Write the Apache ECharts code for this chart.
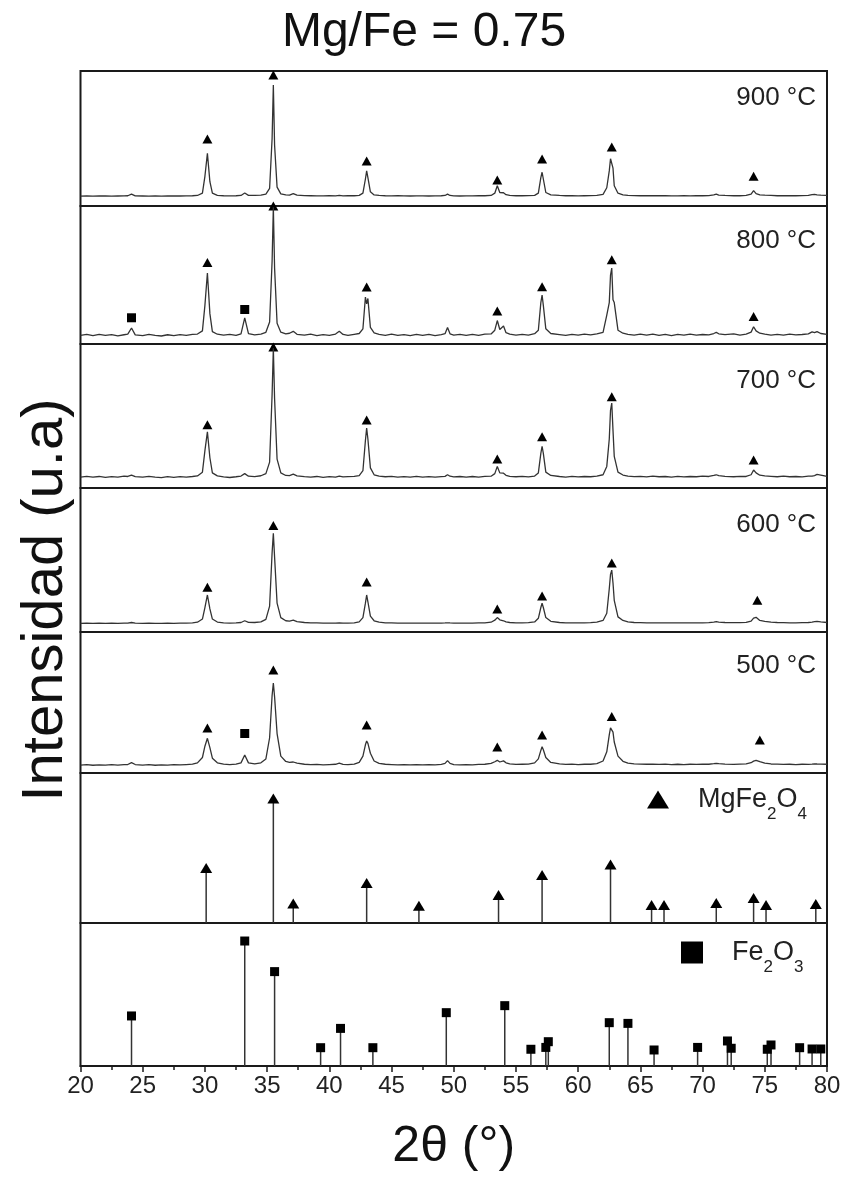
<!DOCTYPE html>
<html><head><meta charset="utf-8">
<script src="https://cdn.jsdelivr.net/npm/echarts@6/dist/echarts.min.js"></script>
<style>html,body{margin:0;padding:0;background:#fff}#c{width:845px;height:1177px}</style>
</head><body><div id="c"></div>
<script>
// ---------- DATA ----------
// 2θ sampling positions shared by all measured patterns
const twoTheta = [
20,20.5,21,21.5,22,22.5,23,23.5,23.8,24.1,24.4,25,25.5,26,26.5,27,27.5,28,28.5,29,
29.4,29.8,30.0,30.2,30.4,30.6,31,31.5,32,32.5,
32.9,33.2,33.5,34,34.5,34.9,35.2,35.4,35.5,35.6,
35.8,36.1,36.5,36.8,37.1,37.4,38,38.5,39,39.5,
40,40.5,40.8,41.1,41.5,42,42.4,42.7,42.9,43.0,
43.1,43.3,43.6,44,44.5,45,45.5,46,46.5,47,
47.5,48,48.5,49,49.3,49.5,49.7,50,50.5,51,
51.5,52,52.5,53,53.3,53.5,53.7,53.85,54.0,54.2,
54.5,55,55.5,56,56.5,56.8,57.0,57.1,57.2,57.4,
57.8,58.5,59,59.5,60,60.5,61,61.5,62.0,62.3,
62.5,62.6,62.7,62.8,62.9,63.2,63.6,64,64.5,65,
65.5,66,66.5,67,67.5,68,68.5,69,69.5,70,
70.5,70.9,71.1,71.3,71.8,72.5,73,73.5,73.9,74.1,
74.3,74.6,75,75.5,76,76.5,77,77.5,78,78.5,
78.8,79.0,79.2,79.5,80];

// intensities (panel units 0-100) for each calcination temperature
const i900 = [
7.3,7.4,7.3,7.5,7.4,7.3,7.4,7.5,7.6,8.8,7.5,7.4,7.3,7.4,7.3,7.4,7.5,7.4,7.5,7.6,
7.8,9.5,22,39,18,9.5,7.9,7.6,7.5,7.6,
7.8,9.6,7.9,7.8,8,8.8,13,50,89.6,45,
14,9,8.2,8.1,9.2,8,7.7,7.6,7.5,7.5,
7.6,7.5,7.8,7.5,7.6,7.6,7.9,9.5,20,26,
21,10.5,8.2,7.8,7.6,7.5,7.6,7.5,7.4,7.5,
7.5,7.4,7.5,7.6,7.8,8.8,7.8,7.5,7.4,7.5,
7.5,7.6,7.6,7.8,9.5,15,10,8.6,9.8,8.4,
7.8,7.6,7.6,7.7,7.9,9.5,21,25,20,10,
8.2,7.8,7.6,7.6,7.5,7.6,7.7,7.9,8.6,13.5,
26,35,36,28,15,9.5,8.3,7.9,7.7,7.6,
7.6,7.7,7.6,7.6,7.5,7.5,7.6,7.5,7.6,7.6,
7.7,8.2,8.8,8.1,7.8,7.6,7.6,7.8,8.8,11.4,
9.2,8.3,8,7.8,7.6,7.7,7.6,7.6,7.7,7.8,
8.4,8.6,8.3,8,7.8];

const i800 = [
6.2,6.9,6.0,7.0,6.3,6.8,5.9,6.7,7.1,11.6,6.6,6.1,6.9,6.2,5.8,6.7,6.0,6.8,6.3,7.0,
7.2,9.5,28,51.4,22,9,7.1,6.4,6.9,6.2,
7.4,19,7.5,6.6,7.2,8.5,16,60,99,55,
15,8.6,7.3,7.8,9.2,7.0,6.4,7.1,6.1,6.8,
6.3,7.2,9.2,6.9,6.2,7.0,7.6,11,34,29,
33,12,8,7.0,6.3,7.1,6.2,6.8,6.0,6.9,
6.3,7.0,6.1,6.8,7.5,12,7.4,6.5,7.0,6.2,
6.9,6.3,7.1,7.3,10,17,10.5,9.5,13,8.2,
7.1,6.4,7.0,6.5,7.5,10,30,35.5,28,11,
7.6,6.8,6.2,7.0,6.4,7.1,6.6,7.4,8.4,21,
30,50,55,32,30,10,7.8,7.0,6.4,7.1,
6.5,7.2,6.3,7.0,6.1,6.9,6.4,7.2,6.5,6.9,
6.6,7.6,8.4,7.4,6.8,7.3,6.5,7.2,8.6,12.5,
9.5,7.8,7.1,6.4,7.0,6.5,7.2,6.6,6.9,7.3,
8.8,8.2,9.0,7.6,7.0];

const i700 = [
7.6,8.1,7.5,8.0,7.4,7.9,7.6,8.2,8.0,8.9,7.9,7.5,8.1,7.6,7.2,7.9,7.4,7.9,7.6,8.0,
8.4,11,26,39,21,10.5,8.4,7.7,7.3,7.8,
8.3,10,8.2,7.9,8.5,10,18,65,97,62,
20,10.5,8.7,8.6,9.6,8.4,7.9,7.5,8.0,7.4,
7.9,7.5,8.3,7.7,7.9,8.1,8.6,12,33,41.7,
34,14,9.2,8.2,7.8,8.1,7.5,7.9,7.5,8.1,
7.6,7.9,7.5,7.9,8.1,9.2,8.2,7.7,8.0,7.6,
8.0,7.6,8.1,8.2,10,15,10.5,9.4,10.3,8.8,
8.1,7.8,8.1,7.7,8.3,10.5,24,29,24,11,
8.7,8.0,7.6,8.1,7.7,8.0,7.8,8.3,9.2,15,
34,54,59,40,22,11,9,8.3,7.9,8.1,
7.7,8.2,7.8,8.0,7.6,8.1,7.7,8.0,7.8,8.2,
8.0,8.7,9.2,8.6,8.1,7.8,8.1,8.0,9.2,12.5,
10.5,8.9,8.4,8.1,7.8,8.2,7.8,8.0,7.7,8.2,
8.3,8.6,9.4,9.0,8.0];

const i600 = [
6.0,6.1,6.0,6.1,6.0,6.1,6.0,6.1,6.1,6.6,6.1,6.0,6.1,6.0,6.0,6.1,6.0,6.1,6.2,6.3,
6.8,9,17,25.7,16,9,6.9,6.4,6.2,6.3,
6.6,7.8,6.7,6.6,7.0,8.8,18,55,68.5,52,
20,10,7.8,7.6,8.2,7.2,6.6,6.4,6.3,6.2,
6.2,6.2,6.4,6.2,6.2,6.4,7.0,10,20,25.7,
21,11,7.8,6.8,6.4,6.3,6.2,6.2,6.1,6.2,
6.2,6.1,6.2,6.2,6.3,6.4,6.3,6.2,6.2,6.2,
6.2,6.3,6.4,6.8,8.2,10,8.5,7.5,7.8,7.0,
6.6,6.4,6.4,6.5,7.0,9.5,17,20,17,10,
7.4,6.6,6.4,6.4,6.3,6.4,6.5,6.8,8,13,
30,40,43,34,22,10.5,8,7.0,6.6,6.5,
6.4,6.4,6.4,6.3,6.3,6.3,6.3,6.3,6.4,6.4,
6.5,6.9,7.2,6.9,6.6,6.5,6.5,6.7,7.6,9.6,
10.2,8,7.4,6.8,6.6,6.5,6.4,6.4,6.5,6.6,
6.9,7.2,7.4,7.0,6.6];

const i500 = [
5.6,5.9,5.5,5.8,5.6,6.0,5.6,5.9,6.0,7.3,6.0,5.6,5.9,5.5,5.8,5.6,5.9,5.7,6.0,6.3,
7.2,11,19,24.6,18,10.5,7.2,6.3,6.0,6.3,
7.2,12.8,7.2,6.5,7.2,10,25,55,63.8,54,
28,12,8.2,7.5,7.8,7.0,6.2,5.9,6.1,5.8,
6.0,6.2,7.0,6.1,5.9,6.3,7.5,12,20,22.7,
21,14,8.5,6.8,6.2,6.0,5.8,6.0,5.7,5.9,
5.7,6.0,5.8,6.1,6.8,8.8,6.8,6.0,5.8,6.0,
5.8,6.1,6.2,6.8,8,9,7.8,7.6,8.6,7.2,
6.5,6.1,6.2,6.3,7.2,10,16,18.7,16.5,11,
7.5,6.4,6.1,6.3,6.0,6.2,6.2,6.7,8.5,15,
27,32,33,29,22,12,8.3,7.0,6.5,6.3,
6.2,6.3,6.1,6.3,6.0,6.2,6.0,6.2,6.1,6.3,
6.2,6.6,6.9,6.6,6.3,6.1,6.3,6.5,7.3,8.4,
9,8,7.0,6.4,6.3,6.1,6.2,6.0,6.2,6.1,
6.3,6.5,6.4,6.3,6.2];

// phase markers drawn above the measured peaks [2θ, height]
const tri900 = [[30.2,49.6],[35.5,97],[43.0,33.3],[53.5,19.3],[57.1,34.8],[62.7,43.7],[74.1,22]];
const tri800 = [[30.2,59],[35.5,100],[43.0,41.3],[53.5,23.9],[57.1,41.5],[62.7,61],[74.1,20]];
const sq800  = [[24.1,19],[33.2,25]];
const tri700 = [[30.2,44],[35.5,98],[43.0,47.2],[53.5,20.1],[57.1,35.6],[62.7,63.4],[74.1,19.4]];
const tri600 = [[30.2,31],[35.5,74],[43.0,34.7],[53.5,16],[57.1,25],[62.7,48],[74.4,22]];
const tri500 = [[30.2,32],[35.5,73],[43.0,34],[53.5,18.4],[57.1,27],[62.7,40],[74.6,23.4]];
const sq500  = [[33.2,28]];

// reference patterns (stick lines)
const refMgFe2O4 = [[30.1,36.6],[35.5,83],[37.1,13],[43.0,26.7],[47.2,11.5],[53.6,18.7],[57.1,32],
  [62.6,39],[65.9,12],[66.9,12],[71.1,13.4],[74.1,16.7],[75.1,12],[79.1,12.7]];
const refFe2O3 = [[24.1,35],[33.2,87.4],[35.6,66],[39.3,12.8],[40.9,26.3],[43.5,12.8],[49.4,37.3],
  [54.1,42.2],[56.2,11.7],[57.4,13],[57.6,17],[62.5,30.3],[64.0,29.8],[66.1,11.2],[69.6,13],
  [72.0,17.5],[72.3,12.4],[75.2,11.7],[75.5,14.7],[77.8,12.8],[78.8,11.9],[79.5,11.9]];

const patternNames = ['900 °C','800 °C','700 °C','600 °C','500 °C'];
const patterns = [i900, i800, i700, i600, i500];
const triMarks = [tri900, tri800, tri700, tri600, tri500];
const sqMarks  = [[], sq800, [], [], sq500];

// ---------- LAYOUT ----------
const FONT = '"Liberation Sans", Arial, Helvetica, sans-serif';
const edges = [71, 206, 344, 488, 632, 773, 923, 1066];
const labelY = [97.5, 241, 381, 525, 666];
const INK = '#1a1a1a';

const grids = [], xAxes = [], yAxes = [], series = [];
for (let i = 0; i < 7; i++) {
  grids.push({left: 80.5, right: 18, top: edges[i], height: edges[i+1] - edges[i],
    show: true, borderColor: INK, borderWidth: 2, backgroundColor: 'transparent'});
  const bottom = i === 6;
  xAxes.push({gridIndex: i, type: 'value', min: 20, max: 80, interval: 5, show: bottom,
    axisLine: {show: true, lineStyle: {color: INK, width: 2}},
    axisTick: {show: true, inside: false, length: 6, lineStyle: {color: INK, width: 1.5}},
    minorTick: {show: true, splitNumber: 2, length: 4, lineStyle: {color: INK, width: 1.5}},
    axisLabel: {fontSize: 24, color: '#222', fontFamily: FONT, margin: 8},
    splitLine: {show: false}, minorSplitLine: {show: false},
    name: bottom ? '2θ (°)' : '', nameLocation: 'middle', nameGap: 56,
    nameTextStyle: {fontSize: 50, color: '#111', fontFamily: FONT}});
  yAxes.push({gridIndex: i, type: 'value', min: 0, max: 100, show: false});
}

const MARK = {color: '#000', opacity: 1};
patterns.forEach((arr, i) => {
  series.push({type: 'line', name: patternNames[i], xAxisIndex: i, yAxisIndex: i,
    data: twoTheta.map((x, k) => [x, arr[k]]), showSymbol: false, symbol: 'none',
    lineStyle: {color: '#333', width: 1.3}, silent: true});
  series.push({type: 'scatter', name: 'pk' + i, xAxisIndex: i, yAxisIndex: i, data: triMarks[i],
    symbol: 'triangle', symbolSize: [10, 9], itemStyle: MARK, clip: false});
  if (sqMarks[i].length) series.push({type: 'scatter', name: 'sq' + i, xAxisIndex: i, yAxisIndex: i,
    data: sqMarks[i], symbol: 'rect', symbolSize: 9, itemStyle: MARK, clip: false});
});

function stickSeries(data, gi) {
  return {type: 'custom', xAxisIndex: gi, yAxisIndex: gi, data: data, encode: {x: 0, y: 1},
    renderItem: (params, api) => {
      const x = api.value(0), y = api.value(1);
      const p0 = api.coord([x, 0]), p1 = api.coord([x, y]);
      return {type: 'line', shape: {x1: p0[0], y1: p0[1], x2: p1[0], y2: p1[1]},
        style: {stroke: '#333', lineWidth: 1.5}};
    }};
}
series.push(stickSeries(refMgFe2O4, 5));
series.push({type: 'scatter', name: 'MgFe2O4', xAxisIndex: 5, yAxisIndex: 5, data: refMgFe2O4,
  symbol: 'triangle', symbolSize: [12, 10], itemStyle: MARK});
series.push(stickSeries(refFe2O3, 6));
series.push({type: 'scatter', name: 'Fe2O3', xAxisIndex: 6, yAxisIndex: 6, data: refFe2O3,
  symbol: 'rect', symbolSize: 9, itemStyle: MARK});

const richLeg = {
  g: {width: 24, fontSize: 27},
  a: {fontSize: 27, fontFamily: FONT, color: '#222', lineHeight: 46, verticalAlign: 'middle'},
  s: {fontSize: 17, fontFamily: FONT, color: '#222', lineHeight: 17, verticalAlign: 'bottom'}
};

const graphics = [
  {type: 'text', x: 424, y: 33, style: {text: 'Mg/Fe = 0.75', font: '48px ' + FONT, fill: '#111',
    align: 'center', verticalAlign: 'middle', textAlign: 'center', textVerticalAlign: 'middle'}},
  {type: 'text', x: 46, y: 600, rotation: Math.PI / 2, style: {text: 'Intensidad (u.a)', font: '58px ' + FONT,
    fill: '#111', align: 'center', verticalAlign: 'middle', textAlign: 'center', textVerticalAlign: 'middle'}}
];
patternNames.forEach((t, i) => graphics.push({type: 'text', x: 816, y: labelY[i],
  style: {text: t, font: '26px ' + FONT, fill: '#222', align: 'right', verticalAlign: 'middle',
    textAlign: 'right', textVerticalAlign: 'middle'}}));

const option = {
  animation: false,
  backgroundColor: '#fff',
  grid: grids, xAxis: xAxes, yAxis: yAxes, series: series,
  legend: [
    {data: [{name: 'MgFe2O4', icon: 'triangle', itemStyle: MARK}], left: 642, top: 781, itemWidth: 22, itemHeight: 18,
      selectedMode: false, formatter: () => '{g| }{a|MgFe}{s|2}{a|O}{s|4}', textStyle: {rich: richLeg}},
    {data: [{name: 'Fe2O3', icon: 'rect', itemStyle: MARK}], left: 676, top: 934, itemWidth: 22, itemHeight: 22,
      selectedMode: false, formatter: () => '{g| }{a|Fe}{s|2}{a|O}{s|3}', textStyle: {rich: richLeg}}
  ],
  graphic: graphics
};
const chart = echarts.init(document.getElementById('c'), null, {renderer: 'canvas'});
chart.setOption(option);
</script></body></html>
